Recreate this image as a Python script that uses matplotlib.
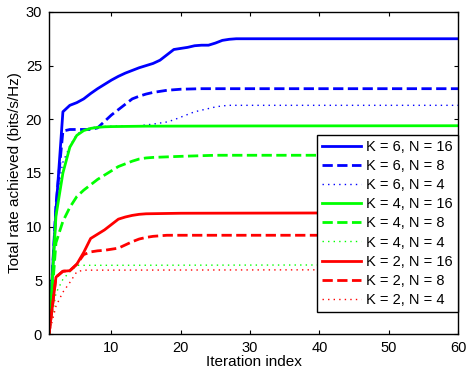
import matplotlib
matplotlib.use("Agg")
import matplotlib.pyplot as plt

plt.rcParams['font.family'] = ['Liberation Sans', 'DejaVu Sans']

# Valeurs (iteration, debit total)
x_k6_n16 = [1, 2, 3, 4, 5, 6, 7, 8, 9, 10, 11, 12, 13, 14, 15, 16, 17, 18, 19, 20,
            21, 22, 23, 24, 25, 26, 27, 28, 60]
y_k6_n16 = [0, 11.5, 20.7, 21.3, 21.55, 21.9, 22.4, 22.85, 23.25, 23.65, 24.0, 24.3,
            24.55, 24.8, 25.0, 25.2, 25.5, 26.0, 26.5, 26.6, 26.7, 26.85, 26.9, 26.9,
            27.1, 27.35, 27.45, 27.5, 27.5]

x_k6_n8 = [1, 2, 3, 4, 5, 6, 7, 8, 9, 10, 11, 12, 13, 14, 15, 16, 17, 18, 19, 20, 23, 60]
y_k6_n8 = [0, 12.0, 18.9, 19.05, 19.05, 19.05, 19.05, 19.2, 19.8, 20.4, 20.9, 21.4,
           21.9, 22.15, 22.35, 22.5, 22.6, 22.7, 22.75, 22.8, 22.85, 22.85]

x_k6_n4 = [1, 2, 3, 4, 5, 6, 7, 8, 10, 14, 16, 17, 18, 19, 20, 21, 22, 23, 24, 25, 26, 27, 60]
y_k6_n4 = [0, 12.5, 16.0, 17.5, 18.6, 19.0, 19.2, 19.3, 19.35, 19.4, 19.55, 19.65,
           19.75, 19.95, 20.2, 20.45, 20.7, 20.85, 21.0, 21.15, 21.25, 21.3, 21.3]

x_k4_n16 = [1, 2, 3, 4, 5, 6, 7, 8, 9, 10, 15, 30, 60]
y_k4_n16 = [0, 11.0, 15.0, 17.4, 18.5, 18.95, 19.15, 19.25, 19.3, 19.32, 19.36, 19.38, 19.4]

x_k4_n8 = [1, 2, 3, 4, 5, 6, 7, 8, 9, 10, 11, 12, 13, 14, 15, 16, 18, 20, 25, 60]
y_k4_n8 = [0, 8.5, 10.5, 11.8, 12.8, 13.4, 13.9, 14.4, 14.8, 15.2, 15.6, 15.85,
           16.1, 16.3, 16.4, 16.45, 16.5, 16.55, 16.65, 16.65]

x_k4_n4 = [1, 2, 3, 4, 5, 60]
y_k4_n4 = [0, 3.8, 5.1, 5.8, 6.4, 6.45]

x_k2_n16 = [1, 2, 3, 4, 5, 6, 7, 8, 9, 10, 11, 12, 13, 14, 15, 20, 60]
y_k2_n16 = [0, 5.3, 5.85, 5.9, 6.5, 7.6, 8.9, 9.3, 9.7, 10.2, 10.7, 10.9, 11.05,
            11.15, 11.2, 11.25, 11.3]

x_k2_n8 = [1, 2, 3, 4, 5, 6, 7, 8, 9, 10, 11, 12, 13, 14, 15, 16, 18, 60]
y_k2_n8 = [0, 5.3, 5.85, 5.9, 6.5, 7.4, 7.65, 7.75, 7.8, 7.9, 8.0, 8.3, 8.6, 8.85,
           9.0, 9.1, 9.2, 9.2]

x_k2_n4 = [1, 2, 3, 4, 5, 6, 60]
y_k2_n4 = [0, 2.6, 3.9, 4.8, 5.8, 5.95, 6.0]

fig = plt.figure(figsize=(4.67, 3.72), dpi=100)
ax = fig.add_axes([0.105, 0.102, 0.876, 0.866])

ax.plot(x_k6_n16, y_k6_n16, color='#0000ff', lw=2, label='K = 6, N = 16')
ax.plot(x_k6_n8, y_k6_n8, color='#0000ff', lw=2, ls='--', label='K = 6, N = 8')
ax.plot(x_k6_n4, y_k6_n4, color='#0000ff', lw=1, ls=(0, (1, 3)), label='K = 6, N = 4')
ax.plot(x_k4_n16, y_k4_n16, color='#00ff00', lw=2, label='K = 4, N = 16')
ax.plot(x_k4_n8, y_k4_n8, color='#00ff00', lw=2, ls='--', label='K = 4, N = 8')
ax.plot(x_k4_n4, y_k4_n4, color='#00ff00', lw=1, ls=(0, (1, 3)), label='K = 4, N = 4')
ax.plot(x_k2_n16, y_k2_n16, color='#ff0000', lw=2, label='K = 2, N = 16')
ax.plot(x_k2_n8, y_k2_n8, color='#ff0000', lw=2, ls='--', label='K = 2, N = 8')
ax.plot(x_k2_n4, y_k2_n4, color='#ff0000', lw=1, ls=(0, (1, 3)), label='K = 2, N = 4')

ax.set_xlim(1, 60)
ax.set_ylim(0, 30)
ax.set_xticks([10, 20, 30, 40, 50, 60])
ax.set_yticks([0, 5, 10, 15, 20, 25, 30])
ax.tick_params(direction='in', top=True, right=True, length=3, labelsize=10.5, pad=5)
for s in ax.spines.values():
    s.set_linewidth(1)

ax.set_xlabel('Iteration index', fontsize=11, labelpad=0)
ax.set_ylabel('Total rate achieved (bits/s/Hz)', fontsize=11, labelpad=3)

leg = ax.legend(loc='lower right', bbox_to_anchor=(1, 0.068), borderaxespad=0,
                fontsize=10.5, fancybox=False, framealpha=1, edgecolor='black',
                handlelength=2.7, handletextpad=0.35, labelspacing=0.35, borderpad=0.36)
leg.get_frame().set_linewidth(1)

plt.savefig('out.png', dpi=100)
